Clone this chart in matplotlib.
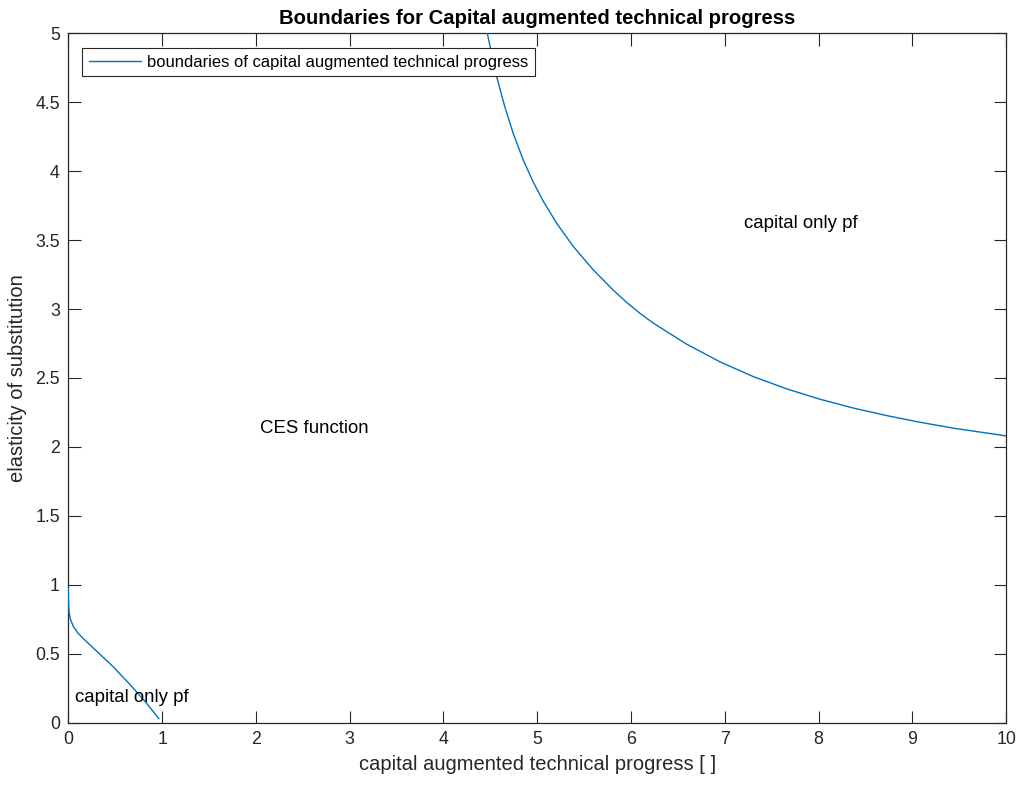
import matplotlib
matplotlib.use("Agg")
import numpy as np
from matplotlib import pyplot as plt

plt.rcParams['font.family'] = ['Liberation Sans', 'DejaVu Sans']

# left boundary: near the origin, falling from sigma ~1 to 0 at x ~1
left_x = [0.0, 0.002, 0.005, 0.01, 0.025, 0.053, 0.10, 0.16, 0.30, 0.48, 0.66, 0.83, 0.965]
left_y = [0.97, 0.90, 0.84, 0.795, 0.745, 0.70, 0.652, 0.61, 0.52, 0.405, 0.275, 0.145, 0.03]

# right boundary: from the top of the axes down to x = 10
right_x = [4.467, 4.567, 4.656, 4.744, 4.851, 4.957, 5.064, 5.207, 5.384, 5.597,
           5.810, 5.95, 6.095, 6.237, 6.593, 6.948, 7.303, 7.659, 8.014, 8.369,
           8.725, 9.080, 9.435, 10.0]
right_y = [5.0, 4.685, 4.462, 4.273, 4.080, 3.921, 3.782, 3.622, 3.454, 3.284,
           3.137, 3.050, 2.969, 2.898, 2.745, 2.617, 2.510, 2.421, 2.346, 2.282,
           2.227, 2.179, 2.136, 2.080]

# the two branches are one series separated by a gap
bx = np.array(left_x + [np.nan] + right_x)
by = np.array(left_y + [np.nan] + right_y)

blue = '#0072BD'
dark = '#262626'

fig = plt.figure(figsize=(10.19, 7.85), dpi=100)
ax = fig.add_axes([0.067, 0.0794, 0.9205, 0.8782])

ax.plot(bx, by, color=blue, linewidth=1.0, zorder=3,
        label='boundaries of capital augmented technical progress')

ax.text(2.04, 2.135, 'CES function', fontsize=13.4, va='center', ha='left')
ax.text(7.2, 3.62, 'capital only pf', fontsize=13.4, va='center', ha='left')
ax.text(0.07, 0.185, 'capital only pf', fontsize=13.4, va='center', ha='left')

ax.set_xlim(0, 10)
ax.set_ylim(0, 5)
ax.set_xticks(np.arange(0, 11, 1))
ax.set_yticks(np.arange(0, 5.5, 0.5))
ax.set_yticklabels(['0', '0.5', '1', '1.5', '2', '2.5', '3', '3.5', '4', '4.5', '5'])

ax.tick_params(direction='in', length=9, width=0.8, color=dark,
               labelsize=12.8, labelcolor=dark, top=True, right=True, pad=6)
for s in ax.spines.values():
    s.set_color(dark)
    s.set_linewidth(0.9)

ax.set_title('Boundaries for Capital augmented technical progress',
             fontsize=14.6, fontweight='bold', pad=7)
ax.set_xlabel('capital augmented technical progress [ ]', fontsize=14.5,
              color=dark, labelpad=5)
ax.set_ylabel('elasticity of substitution', fontsize=14.5, color=dark, labelpad=6)

leg = ax.legend(loc='upper left', bbox_to_anchor=(0.0146, 0.9787), borderaxespad=0,
                fancybox=False, framealpha=1, edgecolor=dark, fontsize=11.9,
                handlelength=3.2, borderpad=0.4, handletextpad=0.36)
leg.get_frame().set_linewidth(0.8)

fig.savefig('out.png', dpi=100)
